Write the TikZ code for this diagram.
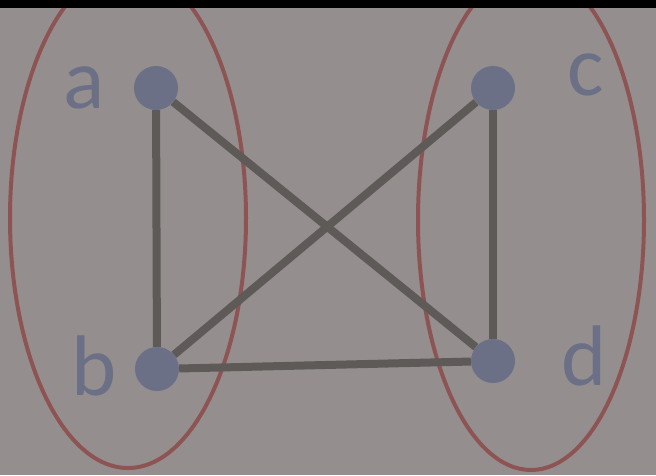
\documentclass[tikz,border=0pt]{standalone}
\usepackage{fontspec}
\setmainfont{Carlito}
\definecolor{bg}{RGB}{148,143,142}
\definecolor{ell}{RGB}{142,84,84}
\definecolor{vert}{RGB}{107,112,134}
\definecolor{edge}{RGB}{94,90,88}
\begin{document}
\begin{tikzpicture}[x=1pt,y=-1pt,
  vtx/.style={circle,fill=vert,minimum size=44pt,inner sep=0pt},
  lbl/.style={text=vert,anchor=base,font=\fontsize{86}{86}\selectfont,inner sep=0pt},
  con/.style={draw=edge,line width=8pt},
  grp/.style={draw=ell,line width=4pt}]
\useasboundingbox (0,0) rectangle (656,475);
\fill[bg] (0,0) rectangle (656,475);
\begin{scope}
\clip (0,8) rectangle (656,475);
\draw[grp] (128,218) ellipse [x radius=118, y radius=250];
\draw[grp] (531,220) ellipse [x radius=113, y radius=250];
\end{scope}
\node[vtx] (a) at (156,88) {};
\node[vtx] (c) at (493,88) {};
\node[vtx] (b) at (157,369) {};
\node[vtx] (d) at (493,361) {};
\begin{scope}[on background layer/.style={}]
\end{scope}
\draw[con] (a) -- (b);
\draw[con] (a) -- (d);
\draw[con] (c) -- (b);
\draw[con] (c) -- (d);
\draw[con] (b) -- (d);
\node[lbl] (la) at (84,108) {a};
\node[lbl] (lc) at (586,95) {c};
\node[lbl] (lb) at (94,395) {b};
\node[lbl] (ld) at (584,385) {d};
\fill[black] (0,0) rectangle (656,8);
\end{tikzpicture}
\end{document}
